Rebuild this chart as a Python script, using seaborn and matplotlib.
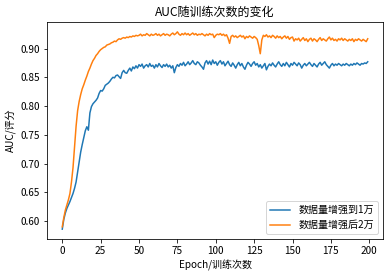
import matplotlib
matplotlib.use("Agg")
import matplotlib.pyplot as plt
import seaborn as sns
import pandas as pd

plt.rcParams['font.family'] = ['Noto Sans CJK SC', 'DejaVu Sans']
plt.rcParams['axes.unicode_minus'] = False

title = "AUC随训练次数的变化"
xlabel = "Epoch/训练次数"
ylabel = "AUC/评分"
series_names = ["数据量增强到1万", "数据量增强后2万"]

auc_1w = [
    0.586, 0.603, 0.614, 0.622, 0.628, 0.634, 0.641, 0.648, 0.657, 0.668,
    0.685, 0.703, 0.720, 0.733, 0.745, 0.757, 0.764, 0.758, 0.788, 0.799,
    0.804, 0.807, 0.810, 0.814, 0.822, 0.827, 0.826, 0.830, 0.836, 0.838,
    0.840, 0.843, 0.847, 0.850, 0.849, 0.853, 0.854, 0.851, 0.848, 0.858,
    0.862, 0.858, 0.857, 0.862, 0.866, 0.861, 0.868, 0.865, 0.870, 0.866,
    0.872, 0.869, 0.873, 0.866, 0.870, 0.872, 0.868,
    0.874, 0.869, 0.871, 0.866, 0.872, 0.868, 0.874, 0.870, 0.867, 0.872,
    0.869, 0.873, 0.868, 0.871, 0.866, 0.870, 0.858, 0.867, 0.872, 0.869,
    0.874, 0.871, 0.876, 0.870, 0.873, 0.877, 0.872, 0.875, 0.879, 0.874,
    0.872, 0.877, 0.875, 0.871, 0.868, 0.864, 0.875, 0.879, 0.873, 0.878,
    0.872, 0.880, 0.874, 0.877, 0.871, 0.876, 0.879, 0.873, 0.877, 0.870,
    0.874, 0.878, 0.872, 0.869, 0.875, 0.871, 0.866, 0.872, 0.876, 0.870,
    0.874, 0.868, 0.864, 0.871, 0.876, 0.873, 0.869, 0.874, 0.877, 0.871,
    0.874, 0.868, 0.872, 0.866, 0.870, 0.874, 0.863, 0.869, 0.873, 0.870,
    0.875, 0.871, 0.868, 0.873, 0.877, 0.872, 0.869, 0.874, 0.870, 0.876,
    0.872, 0.868, 0.874, 0.871, 0.876, 0.873, 0.870, 0.875, 0.872, 0.866,
    0.871, 0.874, 0.870, 0.873, 0.876, 0.872, 0.869, 0.874, 0.871, 0.868,
    0.873, 0.876, 0.871, 0.874, 0.877, 0.872, 0.869, 0.866, 0.871, 0.874,
    0.870, 0.873, 0.871, 0.874, 0.872, 0.870, 0.873, 0.871, 0.874, 0.872,
    0.870, 0.873, 0.871, 0.874, 0.872, 0.875, 0.873, 0.871, 0.874, 0.873,
    0.875, 0.874, 0.877,
]

auc_2w = [
    0.590, 0.606, 0.619, 0.628, 0.637, 0.648, 0.668, 0.693, 0.730, 0.765,
    0.792, 0.808, 0.820, 0.830, 0.837, 0.845, 0.852, 0.860, 0.866, 0.873,
    0.879, 0.883, 0.888, 0.891, 0.895, 0.898, 0.900, 0.902, 0.903, 0.906,
    0.907, 0.908, 0.910, 0.911, 0.913, 0.912, 0.915, 0.917, 0.916, 0.918,
    0.919, 0.918, 0.920, 0.919, 0.921, 0.920, 0.922, 0.921, 0.923, 0.922,
    0.923,
    0.925, 0.922, 0.924, 0.923, 0.926, 0.924, 0.922, 0.925, 0.923, 0.924,
    0.926, 0.923, 0.925, 0.922, 0.924, 0.926, 0.923, 0.925, 0.924, 0.922,
    0.925, 0.927, 0.924, 0.926, 0.929, 0.925, 0.923, 0.926, 0.924, 0.927,
    0.924, 0.926, 0.923, 0.925, 0.927, 0.924, 0.926, 0.923, 0.925, 0.924,
    0.926, 0.924, 0.922, 0.925, 0.923, 0.926, 0.924, 0.925, 0.919, 0.923,
    0.925, 0.924, 0.926, 0.923, 0.925, 0.922, 0.924, 0.918, 0.909, 0.921,
    0.923, 0.920, 0.922, 0.919, 0.921, 0.923, 0.920, 0.922, 0.917, 0.921,
    0.919, 0.922, 0.920, 0.918, 0.921, 0.919, 0.916, 0.905, 0.891, 0.915,
    0.923, 0.921, 0.924, 0.920, 0.922, 0.919, 0.923, 0.921, 0.918, 0.922,
    0.919, 0.921, 0.917, 0.920, 0.922, 0.918, 0.921, 0.916, 0.919, 0.920,
    0.913, 0.917, 0.915, 0.918, 0.913, 0.916, 0.919, 0.914, 0.917, 0.912,
    0.916, 0.918, 0.913, 0.917, 0.915, 0.912, 0.916, 0.919, 0.914, 0.917,
    0.915, 0.913, 0.917, 0.920, 0.915, 0.918, 0.914, 0.916, 0.913, 0.917,
    0.915, 0.918, 0.914, 0.917, 0.915, 0.913, 0.916, 0.914, 0.917, 0.912,
    0.916, 0.914, 0.917, 0.915, 0.913, 0.916, 0.914, 0.912, 0.917,
]

epochs = list(range(len(auc_1w)))
epochs2 = list(range(len(auc_2w)))

df = pd.concat([
    pd.DataFrame({"epoch": epochs, "auc": auc_1w, "series": series_names[0]}),
    pd.DataFrame({"epoch": epochs2, "auc": auc_2w, "series": series_names[1]}),
], ignore_index=True)

fig = plt.figure(figsize=(389 / 72, 275 / 72), dpi=72)
ax = fig.add_axes([47 / 389, 1 - 239 / 275, (383 - 47) / 389, (239 - 22) / 275])

sns.lineplot(data=df, x="epoch", y="auc", hue="series",
             palette=["#1f77b4", "#ff7f0e"], linewidth=1.5, ax=ax)

ax.set_title(title, fontsize=12)
ax.set_xlabel(xlabel, fontsize=10)
ax.set_ylabel(ylabel, fontsize=10)
ax.set_xticks([0, 25, 50, 75, 100, 125, 150, 175, 200])
ax.set_yticks([0.60, 0.65, 0.70, 0.75, 0.80, 0.85, 0.90])
ax.tick_params(labelsize=10)
handles, labels = ax.get_legend_handles_labels()
ax.legend(handles, labels, loc="lower right", fontsize=10)

fig.savefig("out.png", dpi=72)
